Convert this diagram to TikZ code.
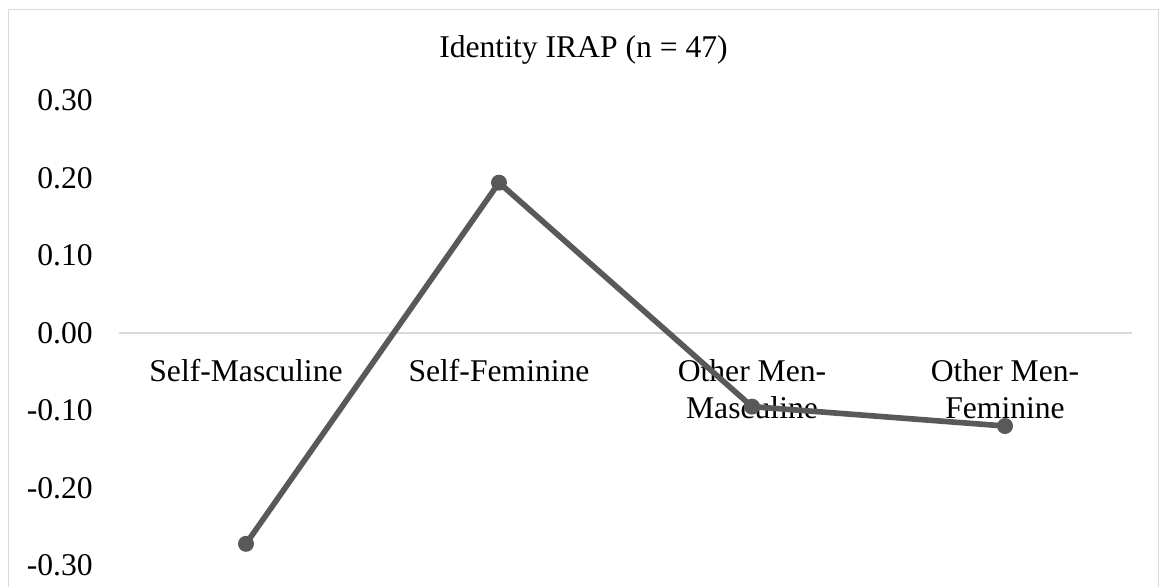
\documentclass[tikz,border=0pt]{standalone}
\usepackage{fontspec}
\setmainfont{Liberation Serif}
\definecolor{linegray}{HTML}{595959}
\definecolor{gridgray}{HTML}{D9D9D9}

\begin{document}
\begin{tikzpicture}[x=6.325cm, y=19.375cm, font=\fontsize{22.5}{26.2}\selectfont,
    dataline/.style={linegray, line width=4pt, line join=round, line cap=round},
    catlabel/.style={anchor=north, inner sep=0pt, align=center}]
    \useasboundingbox (0.0277, -0.3277) rectangle (4.6087, 0.4297);
    \draw[gridgray, line width=0.7pt] (0.0632, -0.3277) |- (4.605, 0.418) -- (4.605, -0.3277);

    \node[anchor=base] (title) at (2.334, 0.355) {Identity IRAP (n = 47)};

    % value axis
    \foreach \v/\t in {0.3/0.30, 0.2/0.20, 0.1/0.10, 0/0.00, -0.1/-0.10, -0.2/-0.20, -0.3/-0.30} {
        \node[anchor=east, inner sep=0pt] (tick\t) at (0.395, \v) {\t};
    }
    \draw[gridgray, line width=1.4pt] (0.5, 0) coordinate (axisleft) -- (4.5, 0) coordinate (axisright);

    % categories
    \node[catlabel] (labsm) at (1, -0.0335) {Self-Masculine};
    \node[catlabel] (labsf) at (2, -0.0335) {Self-Feminine};
    \node[catlabel] (labomm) at (3, -0.0335) {Other Men-\\Masculine};
    \node[catlabel] (labomf) at (4, -0.0335) {Other Men-\\Feminine};

    % data
    \coordinate (sm) at (1, -0.272);
    \coordinate (sf) at (2, 0.194);
    \coordinate (omm) at (3, -0.095);
    \coordinate (omf) at (4, -0.12);
    \draw[dataline] (sm) -- (sf) -- (omm) -- (omf);
    \foreach \p in {sm, sf, omm, omf} {
        \fill[linegray] (\p) circle (0.2cm);
    }
\end{tikzpicture}
\end{document}
